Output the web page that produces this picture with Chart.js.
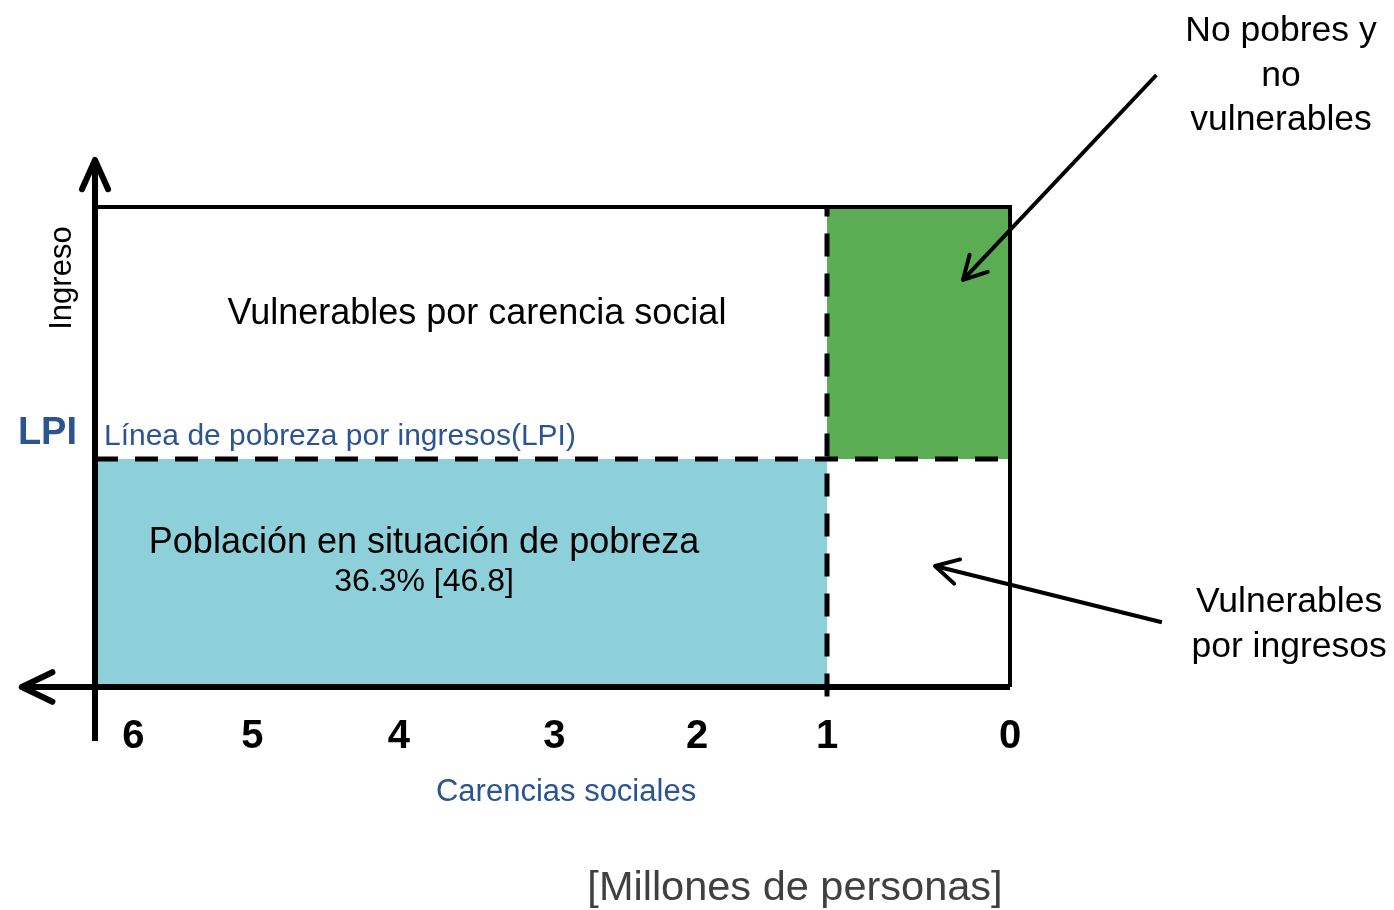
<!DOCTYPE html>
<html>
<head>
<meta charset="utf-8">
<script src="https://cdn.jsdelivr.net/npm/chart.js@4"></script>
<style>
  html, body { margin: 0; padding: 0; background: #fff; }
  #wrap { width: 1394px; height: 910px; }
</style>
</head>
<body>
<div id="wrap"><canvas id="chart"></canvas></div>
<script>
// Carencias sociales (x axis, read right to left) and where each tick sits on the diagram scale
const carencias = ['0', '1', '2', '3', '4', '5', '6'];
const carenciaPos = [0, 1, 1.71, 2.49, 3.34, 4.14, 4.79];
const xMax = 5;            // left edge of the box
const umbralCarencias = 1; // dashed vertical line
const lpi = 0.475;         // income poverty line (share of box height)
const pobreza = '36.3% [46.8]';

const BLUE = '#2b5490';
const CYAN = '#8dd0d9';
const GREEN = '#5aad53';
const FONT = '"Liberation Sans", Arial, sans-serif';

// text labels placed in scale units
const labels = [
  { text: 'Vulnerables por carencia social', x: 2.913, y: 0.777, size: 36, color: '#000' },
  { text: 'Línea de pobreza por ingresos(LPI)', x: 4.951, y: 0.522, size: 30, color: BLUE, align: 'left' },
  { text: 'Población en situación de pobreza', x: 3.202, y: 0.3, size: 36, color: '#000' },
  { text: pobreza, x: 3.202, y: 0.219, size: 32, color: '#000' },
  { text: 'No pobres y', x: -1.481, y: 1.367, size: 35.5, color: '#000' },
  { text: 'no', x: -1.481, y: 1.273, size: 35.5, color: '#000' },
  { text: 'vulnerables', x: -1.481, y: 1.181, size: 35.5, color: '#000' },
  { text: 'Vulnerables', x: -1.525, y: 0.177, size: 35.5, color: '#000' },
  { text: 'por ingresos', x: -1.525, y: 0.083, size: 35.5, color: '#000' },
  { text: 'Carencias sociales', x: 2.426, y: -0.219, size: 31, color: BLUE },
  { text: '[Millones de personas]', x: 1.175, y: -0.42, size: 41.5, color: '#404040' },
  { text: 'Ingreso', x: 5.18, y: 0.852, size: 31, color: '#000', rotate: true }
];

// pointer arrows: from label to region
const pointers = [
  { from: [-0.80, 1.275], to: [0.257, 0.848] },
  { from: [-0.83, 0.135], to: [0.41, 0.252] }
];

function arrowHead(ctx, tx, ty, fx, fy, len, ang) {
  const a = Math.atan2(fy - ty, fx - tx);
  ctx.beginPath();
  ctx.moveTo(tx + len * Math.cos(a + ang), ty + len * Math.sin(a + ang));
  ctx.lineTo(tx, ty);
  ctx.lineTo(tx + len * Math.cos(a - ang), ty + len * Math.sin(a - ang));
  ctx.stroke();
}

const diagramPlugin = {
  id: 'diagram',
  afterDatasetsDraw(chart) {
    const ctx = chart.ctx;
    const x = chart.scales.x, y = chart.scales.y;
    ctx.save();
    ctx.strokeStyle = '#000';
    ctx.lineCap = 'round';
    ctx.lineJoin = 'round';

    // axis arrow heads
    ctx.lineWidth = 6;
    arrowHead(ctx, x.getPixelForValue(xMax), y.getPixelForValue(1.098),
      x.getPixelForValue(xMax), y.getPixelForValue(0), 32, 0.42);
    arrowHead(ctx, x.getPixelForValue(5.4), y.getPixelForValue(0),
      x.getPixelForValue(0), y.getPixelForValue(0), 34, 0.45);

    // pointer arrows
    ctx.lineWidth = 4;
    pointers.forEach(p => {
      const fx = x.getPixelForValue(p.from[0]), fy = y.getPixelForValue(p.from[1]);
      const tx = x.getPixelForValue(p.to[0]), ty = y.getPixelForValue(p.to[1]);
      ctx.lineCap = 'butt';
      ctx.beginPath();
      ctx.moveTo(fx, fy);
      ctx.lineTo(tx, ty);
      ctx.stroke();
      ctx.lineCap = 'round';
      arrowHead(ctx, tx, ty, fx, fy, 26, 0.5);
    });

    // text
    ctx.textBaseline = 'middle';
    labels.forEach(l => {
      ctx.font = l.size + 'px ' + FONT;
      ctx.fillStyle = l.color;
      ctx.textAlign = l.align || 'center';
      const px = x.getPixelForValue(l.x), py = y.getPixelForValue(l.y);
      if (l.rotate) {
        ctx.save();
        ctx.translate(px, py);
        ctx.rotate(-Math.PI / 2);
        ctx.fillText(l.text, 0, 0);
        ctx.restore();
      } else {
        ctx.fillText(l.text, px, py);
      }
    });
    ctx.restore();
  }
};

const line = (data, extra) => Object.assign({
  data: data,
  showLine: true,
  pointRadius: 0,
  borderColor: '#000',
  borderWidth: 4,
  fill: false,
  clip: false
}, extra);

new Chart(document.getElementById('chart'), {
  type: 'scatter',
  data: {
    datasets: [
      // axes
      line([{ x: xMax, y: -0.1125 }, { x: xMax, y: 1.09 }], { borderWidth: 6 }),
      line([{ x: 0, y: 0 }, { x: 5.39, y: 0 }], { borderWidth: 6 }),
      // box top and right side
      line([{ x: xMax, y: 1 }, { x: 0, y: 1 }, { x: 0, y: 0 }], { borderWidth: 4 }),
      // dashed thresholds
      line([{ x: xMax, y: lpi }, { x: 0, y: lpi }], { borderWidth: 5, borderDash: [23, 17] }),
      line([{ x: umbralCarencias, y: -0.02 }, { x: umbralCarencias, y: 1 }], { borderWidth: 5, borderDash: [23, 17] }),
      // regions
      line([{ x: xMax, y: lpi }, { x: umbralCarencias, y: lpi }],
        { borderWidth: 0, fill: 'origin', backgroundColor: CYAN }),
      line([{ x: umbralCarencias, y: 1 }, { x: 0, y: 1 }],
        { borderWidth: 0, fill: { value: lpi }, backgroundColor: GREEN })
    ]
  },
  options: {
    responsive: true,
    maintainAspectRatio: false,
    animation: false,
    layout: {
      padding: { left: 0, right: 384, top: 207, bottom: 143 }
    },
    plugins: {
      legend: { display: false },
      tooltip: { enabled: false }
    },
    scales: {
      x: {
        type: 'linear',
        reverse: true,
        min: 0,
        max: xMax,
        grid: { display: false, drawTicks: false },
        border: { display: false },
        afterBuildTicks: scale => {
          scale.ticks = carenciaPos.map(v => ({ value: v }));
        },
        afterFit: scale => { scale.height = 80; },
        ticks: {
          autoSkip: false,
          maxRotation: 0,
          padding: 26,
          color: '#000',
          font: { family: FONT, size: 40, weight: 'bold' },
          callback: (v, i) => carencias[i]
        }
      },
      y: {
        type: 'linear',
        min: 0,
        max: 1,
        grid: { display: false, drawTicks: false },
        border: { display: false },
        afterBuildTicks: scale => {
          scale.ticks = [{ value: lpi }];
        },
        afterFit: scale => { scale.width = 95; },
        ticks: {
          padding: 18,
          labelOffset: -25,
          color: BLUE,
          font: { family: FONT, size: 38, weight: 'bold' },
          callback: () => 'LPI'
        }
      }
    }
  },
  plugins: [diagramPlugin]
});
</script>
</body>
</html>
